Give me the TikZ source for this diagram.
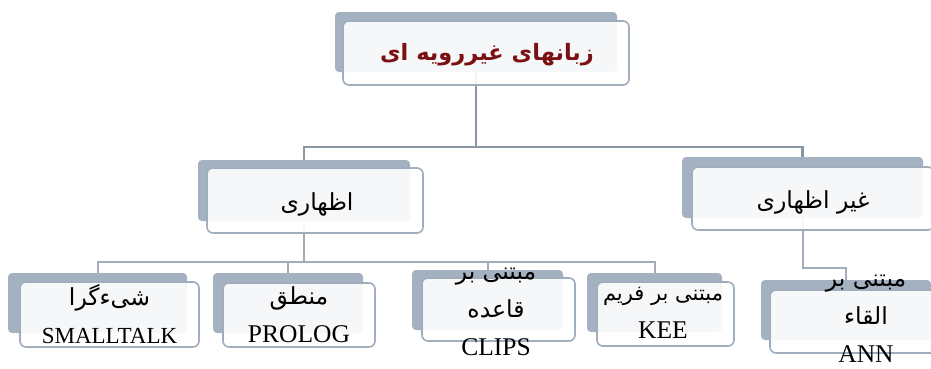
\documentclass[tikz,border=0pt]{standalone}
\usepackage{fontspec}
\setmainfont{Liberation Serif}
\newfontfamily\fafont[Script=Arabic]{DejaVu Sans}
\TeXXeTstate=1
\usepackage{tikz}
\usetikzlibrary{backgrounds}

\definecolor{shadegray}{HTML}{A4B1C0}
\definecolor{framegray}{HTML}{A0ADBC}
\definecolor{linkdark}{HTML}{8A96A3}
\definecolor{linklight}{HTML}{A2ADB9}
\definecolor{titlered}{HTML}{7A1012}

\tikzset{
  backbox/.style={fill=shadegray, rounded corners=4pt, inner sep=0pt},
  frontbox/.style={draw=framegray, line width=1.6pt, fill=white, fill opacity=0.9, rounded corners=6pt, inner sep=0pt},
  boxtext/.style={align=center, inner sep=0pt, font=\fontsize{25.5}{38}\selectfont},
  linkup/.style={draw=linkdark, line width=2.4pt},
  linkdown/.style={draw=linklight, line width=2pt},
}

\begin{document}
\begin{tikzpicture}[x=1pt, y=-1pt]
    \useasboundingbox (0,0) rectangle (931,368);

    % top
    \node[backbox, minimum width=282, minimum height=60] (topback) at (476,42) {};
    \node[frontbox, minimum width=286, minimum height=64] (top) at (486,53) {};
    \node[boxtext, text=titlered, font=\fontsize{22.5}{30}\selectfont\bfseries] (toptxt) at (487,55) {\fafont\beginR زبانهای غیررویه ای\endR};

    % second level
    \node[backbox, minimum width=212, minimum height=61] (explback) at (304,190.5) {};
    \node[frontbox, minimum width=216, minimum height=65] (expl) at (315,200.5) {};
    \node[boxtext] (expltxt) at (317,204) {\fafont\fontsize{23.5}{38}\selectfont\beginR اظهاری\endR};

    \node[backbox, minimum width=241, minimum height=61] (implback) at (802.5,187.5) {};
    \node[frontbox, minimum width=242, minimum height=63] (impl) at (813,198.5) {};
    \node[boxtext] (impltxt) at (813,202) {\fafont\fontsize{23.5}{38}\selectfont\beginR غیر اظهاری\endR};

    % third level
    \node[backbox, minimum width=179, minimum height=60] (smallback) at (97.5,303) {};
    \node[frontbox, minimum width=179, minimum height=65] (small) at (109.5,314.5) {};
    \node[boxtext] (smalltxt) at (small.center) {{\fafont\fontsize{23.5}{38}\selectfont\beginR شیءگرا\endR}\\{\fontsize{23}{38}\selectfont SMALLTALK}};

    \node[backbox, minimum width=150, minimum height=60] (prologback) at (288,303) {};
    \node[frontbox, minimum width=152, minimum height=64] (prolog) at (299,315) {};
    \node[boxtext] (prologtxt) at (prolog.center) {{\fafont\fontsize{23.5}{38}\selectfont\beginR منطق\endR}\\PROLOG};

    \node[backbox, minimum width=151, minimum height=60] (clipsback) at (487.5,300) {};
    \node[frontbox, minimum width=153, minimum height=63] (clips) at (498.5,309.5) {};
    \node[boxtext] (clipstxt) at (496,312) {{\fafont\fontsize{23.5}{38}\selectfont\beginR مبتنی بر\endR}\\{\fafont\fontsize{23.5}{38}\selectfont\beginR قاعده\endR}\\CLIPS};

    \node[backbox, minimum width=135, minimum height=59] (keeback) at (654.5,302.5) {};
    \node[frontbox, minimum width=137, minimum height=64] (kee) at (665.5,314) {};
    \node[boxtext] (keetxt) at (663,313) {{\fafont\fontsize{21}{38}\selectfont\beginR مبتنی بر فریم\endR}\\KEE};

    \node[backbox, minimum width=170, minimum height=60] (annback) at (846,310) {};
    \node[frontbox, minimum width=196, minimum height=63] (ann) at (868,321.5) {};
    \node[boxtext] (anntxt) at (866,319) {{\fafont\fontsize{23.5}{38}\selectfont\beginR مبتنی بر\endR}\\{\fafont\fontsize{23.5}{38}\selectfont\beginR القاء\endR}\\ANN};

    % connectors
    \coordinate (topbar) at (0,147);
    \coordinate (explbar) at (0,262);
    \coordinate (implbar) at (0,268);
    \begin{scope}[on background layer]
    \draw[linkup] (topback.south) -- (topback.south |- topbar) -| (explback.north);
    \draw[linkup] (topback.south) -- (topback.south |- topbar) -| (implback.north);
    \draw[linkdown] (explback.south) -- (explback.south |- explbar) -| (smallback.north);
    \draw[linkdown] (explback.south) -- (explback.south |- explbar) -| (prologback.north);
    \draw[linkdown] (explback.south) -- (explback.south |- explbar) -| (clipsback.north);
    \draw[linkdown] (explback.south) -- (explback.south |- explbar) -| (keeback.north);
    \draw[linkdown] (implback.south) -- (implback.south |- implbar) -| (annback.north);
    \end{scope}
\end{tikzpicture}
\end{document}
